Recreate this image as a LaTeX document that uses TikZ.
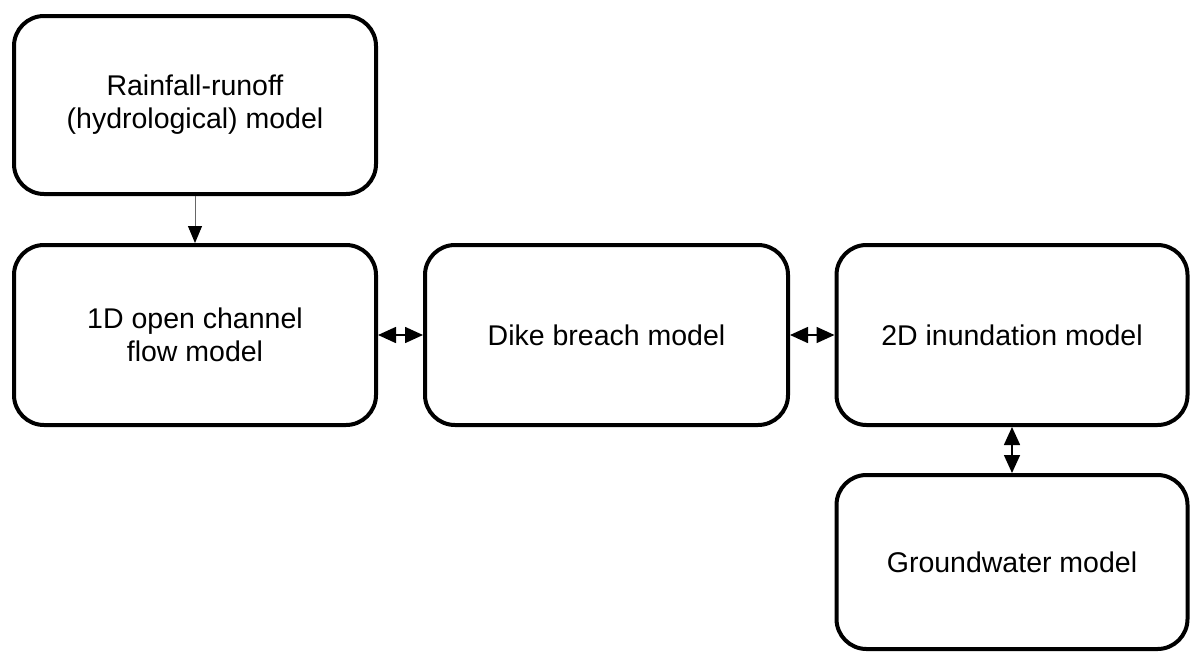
\documentclass[tikz,border=0pt]{standalone}
\usepackage{fontspec}
\setmainfont{Liberation Sans}
\usetikzlibrary{arrows.meta}
\begin{document}
\begin{tikzpicture}[x=1pt,y=-1pt,
  box/.style={draw=black,line width=4pt,rounded corners=30pt,align=center,
    font=\fontsize{28.5}{33}\selectfont,inner sep=0pt},
  biarrow/.style={line width=1.6pt,{Triangle[length=18pt,width=16pt]}-{Triangle[length=18pt,width=16pt]}},
  onearrow/.style={draw=black!60,line width=1pt,-{Triangle[length=17pt,width=14pt,color=black]}}]
\useasboundingbox (0,0) rectangle (1190,651);
\node[box,minimum width=362pt,minimum height=178pt] (rain) at (195,105) {Rainfall-runoff\\(hydrological) model};
\node[box,minimum width=362pt,minimum height=180pt] (oned) at (195,335) {1D open channel\\flow model};
\node[box,minimum width=363pt,minimum height=180pt] (dike) at (606.5,335) {Dike breach model};
\node[box,minimum width=351pt,minimum height=180pt] (twod) at (1012,335) {2D inundation model};
\node[box,minimum width=351pt,minimum height=174pt] (gw) at (1012,562) {Groundwater model};
\draw[onearrow] (rain.south) -- (oned.north);
\draw[biarrow] (oned.east) -- (dike.west);
\draw[biarrow] (dike.east) -- (twod.west);
\draw[biarrow] (twod.south) -- (gw.north);
\end{tikzpicture}
\end{document}
